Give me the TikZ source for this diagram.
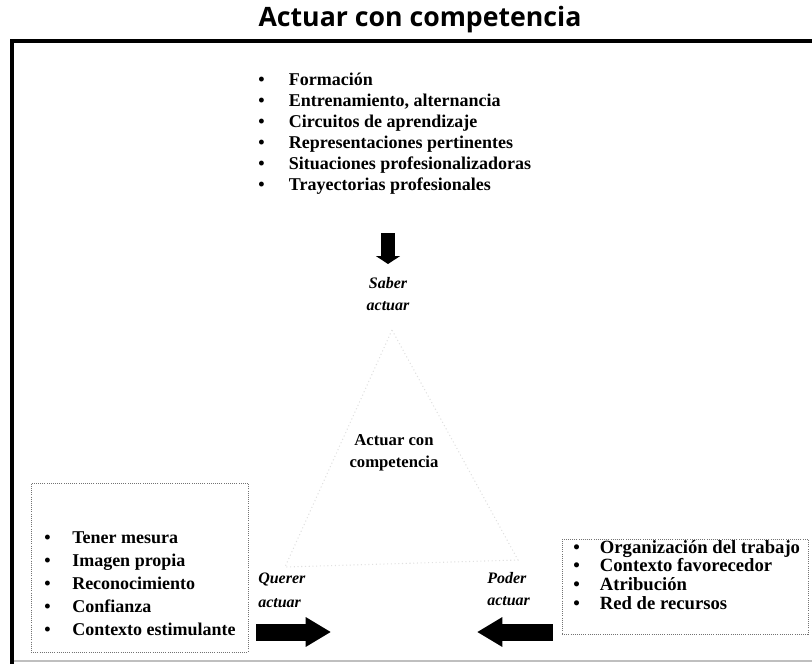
\documentclass[tikz,border=0pt]{standalone}
\usepackage{fontspec}
\setmainfont{Liberation Serif}
\newfontfamily\titlefont{Open Sans}
\usetikzlibrary{arrows.meta,fit}

\begin{document}
\begin{tikzpicture}[x=0.75pt, y=-0.75pt,
    itemlist/.style={anchor=base west, inner sep=0, font=\bfseries\fontsize{13.5}{15.75}\selectfont},
    verbtext/.style={anchor=base west, inner sep=0, font=\bfseries\itshape\fontsize{12}{16.5}\selectfont},
    dotbox/.style={draw=black!55, densely dotted, line width=0.6pt, inner sep=0},
    fatarrow/.style={line width=12.75pt, -{Triangle[width=21pt, length=19pt]}},
    ]
    \useasboundingbox (0,0) rectangle (812,664);

    % --- Title and frame ---
    \node[font=\titlefont\bfseries\fontsize{20}{22}\selectfont, anchor=base] (title) at (420,26) {Actuar con competencia};
    \draw[line width=3pt] (812,41) -- (12,41) -- (12,664);
    \draw[black!25, line width=1.2pt] (14,661) -- (812,661);

    % --- Faint triangle ---
    \coordinate (tapex) at (392,330);
    \coordinate (tleft) at (285,567);
    \coordinate (tright) at (518,560);
    \draw[black!12, dotted, line width=0.8pt] (tapex) -- (tleft) -- (tright) -- cycle;

    % --- Saber actuar ---
    \node[itemlist] (saberlist) at (258,85) {\begin{tabular}[t]{@{}p{23pt}@{}l@{}}
        \textbullet & Formación\\
        \textbullet & Entrenamiento, alternancia\\
        \textbullet & Circuitos de aprendizaje\\
        \textbullet & Representaciones pertinentes\\
        \textbullet & Situaciones profesionalizadoras\\
        \textbullet & Trayectorias profesionales
    \end{tabular}};
    \node[verbtext, anchor=base] (saber) at (388,288) {\begin{tabular}[t]{@{}c@{}}Saber\\actuar\end{tabular}};
    \coordinate (sa1) at (388,233);
    \coordinate (sa2) at (388,264);
    \draw[line width=11pt, -{Triangle[width=18pt, length=6pt]}] (sa1) -- (sa2);

    % --- Centre ---
    \node[font=\bfseries\fontsize{12.5}{16.5}\selectfont, anchor=base, inner sep=0] (centre) at (394,445) {\begin{tabular}[t]{@{}c@{}}Actuar con\\competencia\end{tabular}};

    % --- Querer actuar ---
    \node[dotbox, fit={(31,483) (248,652)}] (querbox) {};
    \node[itemlist, font=\bfseries\fontsize{13.5}{17.25}\selectfont] (querlist) at (44,543) {\begin{tabular}[t]{@{}p{21pt}@{}l@{}}
        \textbullet & Tener mesura\\
        \textbullet & Imagen propia\\
        \textbullet & Reconocimiento\\
        \textbullet & Confianza\\
        \textbullet & Contexto estimulante
    \end{tabular}};
    \node[verbtext, font=\bfseries\itshape\fontsize{12}{18}\selectfont] (querer) at (258,583) {\begin{tabular}[t]{@{}l@{}}Querer\\actuar\end{tabular}};
    \coordinate (qa1) at (256,632);
    \coordinate (qa2) at (331,632);
    \draw[fatarrow] (qa1) -- (qa2);

    % --- Poder actuar ---
    \node[dotbox, fit={(562,539) (808,634)}] (poderbox) {};
    \node[itemlist, font=\bfseries\fontsize{14}{14}\selectfont] (poderlist) at (573,553) {\begin{tabular}[t]{@{}p{20pt}@{}l@{}}
        \textbullet & Organización del trabajo\\
        \textbullet & Contexto favorecedor\\
        \textbullet & Atribución\\
        \textbullet & Red de recursos
    \end{tabular}};
    \node[verbtext] (poder) at (487,583) {\begin{tabular}[t]{@{}l@{}}Poder\\actuar\end{tabular}};
    \coordinate (pa1) at (553,632);
    \coordinate (pa2) at (477,632);
    \draw[fatarrow] (pa1) -- (pa2);
\end{tikzpicture}
\end{document}
